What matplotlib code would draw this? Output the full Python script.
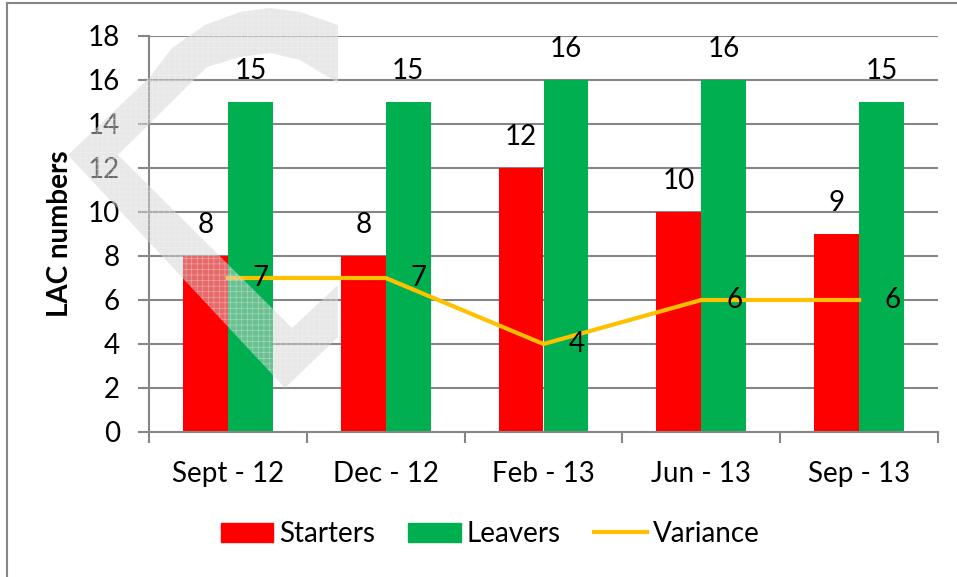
import matplotlib
matplotlib.use("Agg")
import matplotlib.pyplot as plt
from matplotlib.lines import Line2D
from matplotlib.patches import Patch, Polygon
import numpy as np

categories = ["Sept - 12", "Dec - 12", "Feb - 13", "Jun - 13", "Sep - 13"]
starters = [8, 8, 12, 10, 9]
leavers = [15, 15, 16, 16, 15]
variance = [7, 7, 4, 6, 6]
yticks = [0, 2, 4, 6, 8, 10, 12, 14, 16, 18]

plt.rcParams['font.family'] = ['Lato', 'DejaVu Sans']
plt.rcParams['hatch.linewidth'] = 0.4

RED = "#FF0000"
GREEN = "#00B050"
YELLOW = "#FFC000"
GRID = "#868686"

W, H = 957, 577
fig = plt.figure(figsize=(W/100, H/100), dpi=100)
ax = fig.add_axes([149/W, 1-432/H, (938-149)/W, (432-36)/H])

x = np.arange(len(categories))
w = 0.285
ax.bar(x - w/2, starters, width=w, color=RED, zorder=2, label="Starters")
ax.bar(x + w/2, leavers, width=w, color=GREEN, zorder=2, label="Leavers")
ax.plot(x, variance, color=YELLOW, lw=3, zorder=3, label="Variance")

fs = 20
for i in range(len(x)):
    ax.annotate(str(starters[i]), (x[i] - w/2, starters[i]), xytext=(0, 13),
                textcoords="offset points", ha="center", va="bottom", fontsize=fs, zorder=4)
    ax.annotate(str(leavers[i]), (x[i] + w/2, leavers[i]), xytext=(0, 13),
                textcoords="offset points", ha="center", va="bottom", fontsize=fs, zorder=4)
    ax.annotate(str(variance[i]), (x[i], variance[i]), xytext=(18, 0),
                textcoords="offset points", ha="left", va="center", fontsize=fs, zorder=4)

ax.set_xlim(-0.5, len(categories) - 0.5)
ax.set_ylim(0, 18)
ax.set_yticks(yticks)
ax.set_yticklabels([str(t) for t in yticks], fontsize=fs)
ax.yaxis.grid(True, color=GRID, lw=1.5, zorder=0)
ax.set_axisbelow(True)
ax.tick_params(axis='y', length=8, width=1.5, color=GRID, pad=13)

ax.set_xticks(np.arange(-0.5, len(categories)), minor=False)
ax.set_xticklabels([])
ax.set_xticks(x, minor=True)
ax.set_xticklabels(categories, minor=True, fontsize=fs)
ax.tick_params(axis='x', which='major', length=8, width=1.5, color=GRID)
ax.tick_params(axis='x', which='minor', length=0, pad=21)

for s in ["top", "right"]:
    ax.spines[s].set_visible(False)
for s in ["left", "bottom"]:
    ax.spines[s].set_color(GRID)
    ax.spines[s].set_linewidth(1.5)

ax.set_ylabel("LAC numbers", fontsize=20, fontweight="bold")
ax.yaxis.set_label_coords((60 - 149) / (938 - 149), 0.5)
ax.yaxis.label.set_verticalalignment("center")

handles = [Patch(color=RED), Patch(color=GREEN), Line2D([0], [0], color=YELLOW, lw=3)]
leg = fig.legend(handles, ["Starters", "Leavers", "Variance"], loc="center",
                 bbox_to_anchor=(490/W, 1-534/H), ncol=3, frameon=False,
                 fontsize=fs, handlelength=1.9, handleheight=0.65, handletextpad=0.2,
                 columnspacing=1.2)

# outer chart border (left and top)
fig.add_artist(Line2D([7/W, 7/W], [0, 1-3/H], color=GRID, lw=1.5, transform=fig.transFigure))
fig.add_artist(Line2D([7/W, 1], [1-3/H, 1-3/H], color=GRID, lw=1.5, transform=fig.transFigure))

# light grey watermark shape overlaying the chart
wm_px = [(338, 25), (300, 12), (270, 8), (240, 12), (205, 25), (172, 48), (150, 77),
         (68, 155), (285, 388), (338, 337), (338, 285), (292, 328), (118, 155),
         (207, 67), (240, 57), (270, 53), (300, 60), (338, 83)]
wm = Polygon([(px / W, 1 - py / H) for px, py in wm_px], closed=True,
             transform=fig.transFigure, facecolor="#D3D3D3", alpha=0.5,
             edgecolor="#F4F4F4", hatch="+++", linewidth=0, zorder=10)
fig.add_artist(wm)

fig.savefig("out.png", dpi=100)
